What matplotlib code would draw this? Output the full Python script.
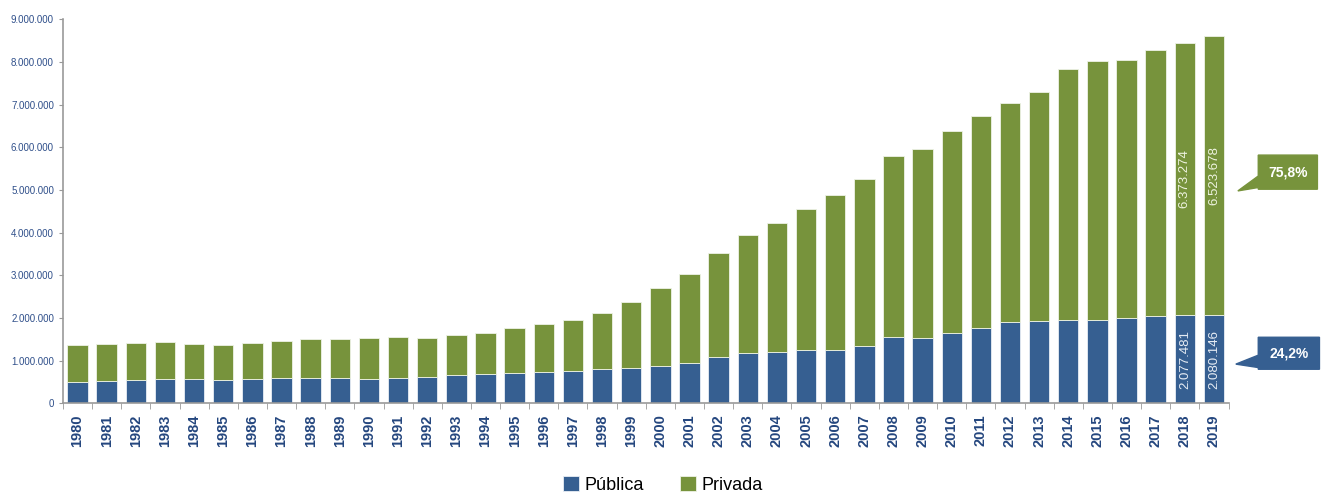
import matplotlib.pyplot as plt
import numpy as np
from matplotlib.patches import Polygon
from matplotlib.ticker import FuncFormatter

anos = [str(a) for a in range(1980, 2020)]

publica = [492232, 535810, 548388, 576689, 571879, 556680, 577632, 584965, 585351, 584414,
           578625, 605736, 629662, 653516, 690450, 700540, 735427, 759182, 804729, 832022,
           887026, 939225, 1085977, 1176174, 1214317, 1246704, 1251365, 1335177, 1552953, 1523864,
           1643298, 1773315, 1897376, 1932527, 1961002, 1952145, 1990078, 2045356, 2077481, 2080146]

total = [1377286, 1386792, 1407987, 1438992, 1399539, 1367609, 1418196, 1470555, 1503555, 1518904,
         1540080, 1565056, 1535788, 1594668, 1661034, 1759703, 1868529, 1945615, 2125958, 2369945,
         2694245, 3036113, 3520627, 3936933, 4223344, 4567798, 4883852, 5250147, 5808017, 5954021,
         6379299, 6739689, 7037688, 7305977, 7828013, 8027297, 8048701, 8286663, 8450755, 8603824]

privada = [t - p for t, p in zip(total, publica)]

azul = '#365f91'
verde = '#77933c'
texto = '#2f4f8a'

plt.rcParams['font.family'] = ['Liberation Sans', 'DejaVu Sans']

fig = plt.figure(figsize=(13.26, 4.98), dpi=100)
ax = fig.add_axes([0.0475, 0.19, 0.879, 0.771])

x = np.arange(len(anos))
ax.bar(x, publica, width=0.7, color=azul, edgecolor='#e8eef5', linewidth=0.6, label='Pública')
ax.bar(x, privada, width=0.7, bottom=publica, color=verde, edgecolor='#eef3e6', linewidth=0.6, label='Privada')

ax.set_xlim(-0.5, len(anos) - 0.5)
ax.set_ylim(0, 9000000)
ax.set_yticks(np.arange(0, 9000001, 1000000))
ax.yaxis.set_major_formatter(FuncFormatter(lambda v, p: f'{int(v):,}'.replace(',', '.')))
ax.tick_params(axis='y', labelsize=7, labelcolor=texto, color='#999999', length=3)

ax.set_xticks(x)
ax.set_xticklabels(anos, rotation=90, fontsize=10.5, fontweight='bold', color='#24467e')
ax.set_xticks(np.arange(-0.5, len(anos)), minor=True)
ax.tick_params(axis='x', which='major', length=0, pad=8)
ax.tick_params(axis='x', which='minor', length=4, color='#999999')

for s in ['top', 'right']:
    ax.spines[s].set_visible(False)
for s in ['left', 'bottom']:
    ax.spines[s].set_color('#999999')
    ax.spines[s].set_linewidth(1.2)

# rótulos dentro das barras de 2018 e 2019
for i in [len(anos) - 2, len(anos) - 1]:
    ax.text(x[i], publica[i] / 2, f'{publica[i]:,}'.replace(',', '.'), rotation=90,
            ha='center', va='center', color='#e6ecf4', fontsize=9.5)
    ax.text(x[i], publica[i] + privada[i] / 2, f'{privada[i]:,}'.replace(',', '.'), rotation=90,
            ha='center', va='center', color='#eef3e0', fontsize=9.5)

# caixas com percentuais de 2019
pct_priv = privada[-1] / total[-1] * 100
pct_pub = publica[-1] / total[-1] * 100

callouts = [
    (verde, f'{pct_priv:.1f}%'.replace('.', ','), [(40.52, 5.82e6), (42.55, 5.82e6), (42.55, 5.02e6),
                                                   (40.52, 5.02e6), (40.52, 5.06e6), (39.82, 4.98e6),
                                                   (40.52, 5.33e6)]),
    (azul, f'{pct_pub:.1f}%'.replace('.', ','), [(40.52, 1.55e6), (42.62, 1.55e6), (42.62, 0.80e6),
                                                 (40.52, 0.80e6), (40.52, 0.84e6), (39.75, 0.92e6),
                                                 (40.52, 1.13e6)]),
]
for cor, txt, pts in callouts:
    ax.add_patch(Polygon(pts, closed=True, facecolor=cor, edgecolor=cor, clip_on=False))
    xs = [p[0] for p in pts[:4]]
    ys = [p[1] for p in pts[:4]]
    ax.text((min(xs) + max(xs)) / 2, (min(ys) + max(ys)) / 2, txt, ha='center', va='center',
            color='white', fontsize=10, fontweight='bold', clip_on=False)

fig.legend(loc='lower center', bbox_to_anchor=(0.5, -0.025), ncol=2, frameon=False,
           fontsize=13, handlelength=0.9, handleheight=0.9, handletextpad=0.3, columnspacing=2.0)

fig.savefig('out.png', dpi=100)
